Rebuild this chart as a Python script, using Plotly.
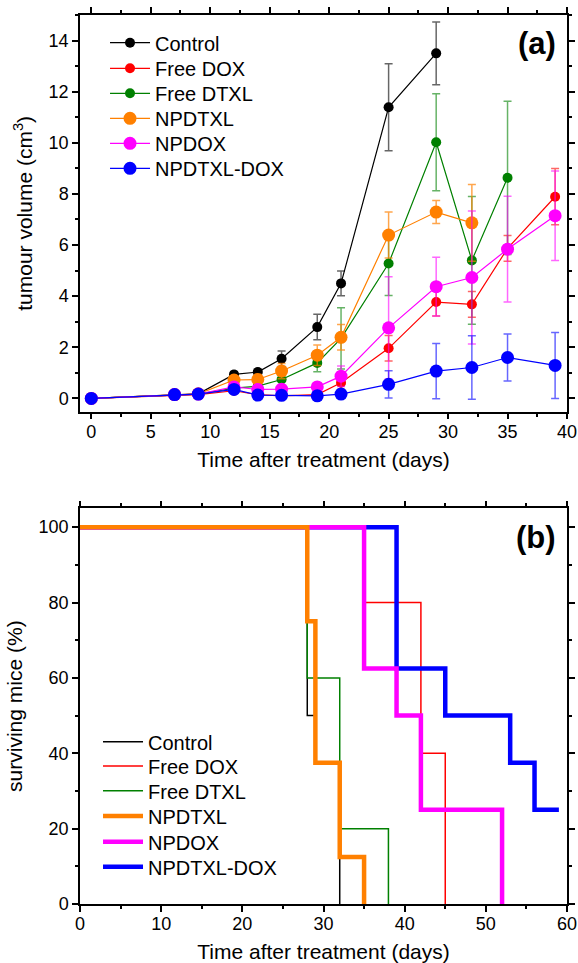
import plotly.graph_objects as go

# ---------------- data: panel (a) tumour volume ----------------
days = [0, 7, 9, 12, 14, 16, 19, 21, 25, 29, 32, 35, 39]

control = [0, 0.15, 0.18, 0.94, 1.03, 1.55, 2.79, 4.5, 11.39, 13.5]
control_err = [0, 0.05, 0.05, 0.1, 0.12, 0.3, 0.5, 0.48, 1.7, 1.23]

free_dox = [0, 0.12, 0.15, 0.3, 0.15, 0.1, 0.15, 0.61, 1.96, 3.77, 3.68, 5.87, 7.89]
free_dox_err = [0, 0.05, 0.05, 0.1, 0.1, 0.08, 0.1, 0.25, 0.5, 0.55, 0.5, 0.5, 1.1]

free_dtxl = [0, 0.15, 0.17, 0.4, 0.48, 0.74, 1.39, 2.35, 5.28, 10.02, 5.4, 8.63]
free_dtxl_err = [0, 0.05, 0.05, 0.15, 0.2, 0.3, 0.35, 1.2, 1.25, 1.9, 2.5, 3.0]

npdtxl = [0, 0.15, 0.18, 0.72, 0.74, 1.07, 1.69, 2.39, 6.39, 7.29, 6.87]
npdtxl_err = [0, 0.05, 0.05, 0.15, 0.2, 0.3, 0.4, 0.5, 0.9, 0.45, 1.5]

npdox = [0, 0.15, 0.17, 0.45, 0.35, 0.36, 0.45, 0.87, 2.76, 4.37, 4.73, 5.84, 7.15]
npdox_err = [0, 0.05, 0.05, 0.15, 0.1, 0.1, 0.15, 0.4, 2.0, 1.15, 2.6, 2.07, 1.75]

npdtxl_dox = [0, 0.15, 0.17, 0.35, 0.13, 0.12, 0.1, 0.17, 0.55, 1.07, 1.21, 1.6, 1.29]
npdtxl_dox_err = [0, 0.05, 0.05, 0.15, 0.1, 0.08, 0.08, 0.1, 0.53, 1.08, 1.24, 0.92, 1.29]

# ---------------- data: panel (b) survival ----------------
surv_control_t = [0, 28, 29, 32]
surv_control = [100, 50, 37.5, 0]
surv_free_dox_t = [0, 35, 42, 45]
surv_free_dox = [100, 80, 40, 0]
surv_free_dtxl_t = [0, 28, 32, 38]
surv_free_dtxl = [100, 60, 20, 0]
surv_npdtxl_t = [0, 28, 29, 32, 35]
surv_npdtxl = [100, 75, 37.5, 12.5, 0]
surv_npdox_t = [0, 35, 39, 42, 52]
surv_npdox = [100, 62.5, 50, 25, 0]
surv_npdtxl_dox_t = [0, 39, 45, 53, 56, 59]
surv_npdtxl_dox = [100, 62.5, 50, 37.5, 25, 25]

names = ["Control", "Free DOX", "Free DTXL", "NPDTXL", "NPDOX", "NPDTXL-DOX"]
colors = ["#000000", "#FF0000", "#008000", "#FF8000", "#FF00FF", "#0000FF"]
err_colors = ["rgba(0,0,0,0.6)", "rgba(255,0,0,0.6)", "rgba(0,128,0,0.6)",
              "rgba(255,128,0,0.7)", "rgba(255,0,255,0.6)", "rgba(0,0,255,0.6)"]
msizes = [10, 10, 10, 13, 13, 13]

W, H = 578, 963
ML, MR, MT, MB = 80, 11.3, 15, 59
PW, PH = W - ML - MR, H - MT - MB


def px_x(p):
    return (p - ML) / PW


def px_y(p):
    return (H - MB - p) / PH


FONT = "Liberation Sans, Arial, Helvetica, sans-serif"

fig = go.Figure()

# legend rows (page pixels): panel a and panel b
leg_a_y = [42.7, 68.3, 93.3, 118.3, 143.3, 168.3]
leg_b_y = [741.7, 766, 790.7, 816, 841.7, 866.7]
legends = {}

series_a = [control, free_dox, free_dtxl, npdtxl, npdox, npdtxl_dox]
errs_a = [control_err, free_dox_err, free_dtxl_err, npdtxl_err, npdox_err, npdtxl_dox_err]
for i, (vals, errs) in enumerate(zip(series_a, errs_a)):
    lid = "legend" if i == 0 else f"legend{i + 1}"
    legends[lid] = dict(x=px_x(105), y=px_y(leg_a_y[i]), xanchor="left", yanchor="middle")
    fig.add_trace(go.Scatter(
        x=days[:len(vals)], y=vals, name=names[i], mode="lines+markers",
        line=dict(color=colors[i], width=1.2),
        marker=dict(color=colors[i], size=msizes[i]),
        error_y=dict(type="data", array=errs, visible=True, color=err_colors[i],
                     thickness=1.5, width=4),
        xaxis="x", yaxis="y", legend=lid, showlegend=True,
    ))

surv_t = [surv_control_t, surv_free_dox_t, surv_free_dtxl_t, surv_npdtxl_t, surv_npdox_t, surv_npdtxl_dox_t]
surv_v = [surv_control, surv_free_dox, surv_free_dtxl, surv_npdtxl, surv_npdox, surv_npdtxl_dox]
widths_b = [1.5, 1.5, 1.5, 4.5, 4.5, 4.5]
draw_order = [0, 1, 2, 5, 4, 3]
for i in draw_order:
    lid = f"legend{i + 7}"
    legends[lid] = dict(x=px_x(98), y=px_y(leg_b_y[i]), xanchor="left", yanchor="middle")
    fig.add_trace(go.Scatter(
        x=surv_t[i], y=surv_v[i], name=names[i], mode="lines",
        line=dict(color=colors[i], width=widths_b[i], shape="hv"),
        xaxis="x2", yaxis="y2", legend=lid, showlegend=True,
    ))

axis_common = dict(
    automargin=False,
    showline=True, linecolor="black", linewidth=1.5, mirror="allticks",
    ticks="outside", ticklen=6, tickwidth=1.5, tickcolor="black",
    showgrid=False, zeroline=False,
    tickfont=dict(family=FONT, size=18, color="black"),
)
minor_common = dict(ticks="outside", ticklen=3.5, tickwidth=1.5, tickcolor="black")

legend_layout = {}
for lid, pos in legends.items():
    legend_layout[lid] = dict(bgcolor="rgba(0,0,0,0)", font=dict(family=FONT, size=20, color="black"),
                              itemwidth=40, borderwidth=0, **pos)

fig.update_layout(
    width=W, height=H,
    showlegend=True,
    margin=dict(l=ML, r=MR, t=MT, b=MB, autoexpand=False),
    paper_bgcolor="white", plot_bgcolor="white",
    font=dict(family=FONT, color="black"),
    xaxis=dict(domain=[0, 1], anchor="y", range=[-0.95, 40], dtick=5,
               minor=dict(dtick=2.5, **minor_common), ticklabelstandoff=-3,
               title=dict(text="Time after treatment (days)", font=dict(family=FONT, size=21), standoff=11),
               **axis_common),
    yaxis=dict(domain=[px_y(411.7), 1], anchor="x", range=[-0.52, 15], dtick=2,
               minor=dict(dtick=1, **minor_common),
               title=dict(text="tumour volume (cm<sup>3</sup>)", font=dict(family=FONT, size=21), standoff=10),
               **axis_common),
    xaxis2=dict(domain=[0, 1], anchor="y2", range=[0, 60], dtick=10,
                minor=dict(dtick=5, **minor_common), ticklabelstandoff=-3,
                title=dict(text="Time after treatment (days)", font=dict(family=FONT, size=21), standoff=11),
                **axis_common),
    yaxis2=dict(domain=[0, px_y(508.3)], anchor="x2", range=[0, 105], dtick=20,
                minor=dict(dtick=10, **minor_common),
                title=dict(text="surviving mice (%)", font=dict(family=FONT, size=21), standoff=10),
                **axis_common),
    annotations=[
        dict(text="<b>(a)</b>", x=px_x(537), y=px_y(43), xref="paper", yref="paper",
             xanchor="center", yanchor="middle",
             showarrow=False, font=dict(family=FONT, size=31, color="black")),
        dict(text="<b>(b)</b>", x=px_x(536), y=px_y(537), xref="paper", yref="paper",
             xanchor="center", yanchor="middle",
             showarrow=False, font=dict(family=FONT, size=31, color="black")),
    ],
    **legend_layout,
)

fig.write_html("out.html", config={"displayModeBar": False},
               post_script="document.body.style.margin='0';document.body.style.overflow='hidden';")
